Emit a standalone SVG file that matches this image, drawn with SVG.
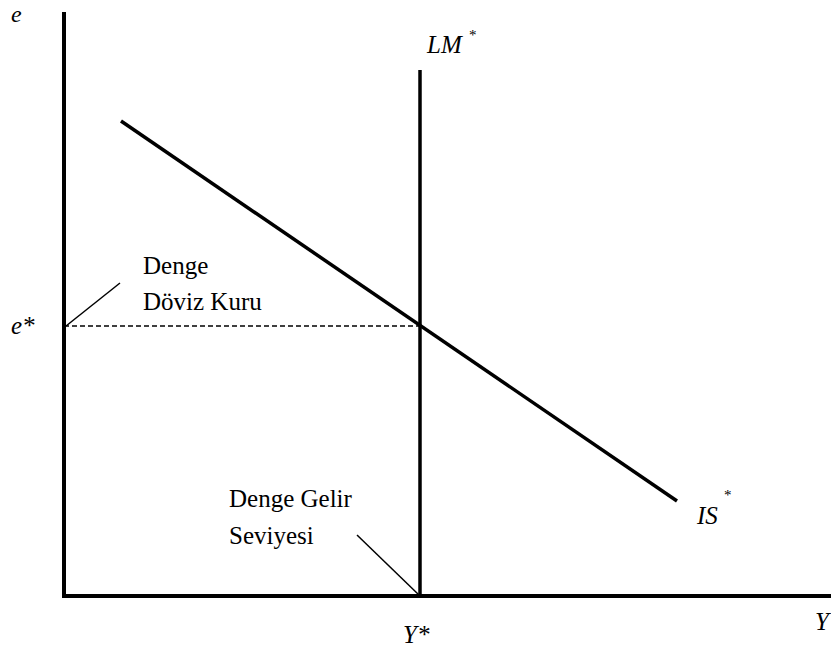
<svg xmlns="http://www.w3.org/2000/svg" width="831" height="652" viewBox="0 0 831 652">
<style>
.ax{stroke:#000;stroke-width:4;fill:none}
.cv{stroke:#000;stroke-width:3.5;fill:none}
.ld{stroke:#000;stroke-width:1.5;fill:none}
.ds{stroke:#000;stroke-width:1.5;stroke-dasharray:5,3;fill:none}
text{font-family:"Liberation Serif","Times New Roman",serif;fill:#000}
.it{font-style:italic;font-size:25px}
.n{font-size:25px}
.st{font-size:15px}
</style>
<rect width="831" height="652" fill="#fff"/>
<g id="connectors">
<line class="ds" x1="64" y1="326" x2="420" y2="326"/>
<line class="ld" x1="66" y1="326" x2="120" y2="283"/>
<line class="ld" x1="357" y1="535" x2="419" y2="595"/>
</g>
<g id="axes">
<line class="ax" x1="64" y1="12" x2="64" y2="598"/>
<line class="ax" x1="62" y1="596" x2="831" y2="596"/>
</g>
<g id="LM">
<line class="cv" x1="420" y1="70" x2="420" y2="596"/>
<text class="it" x="427" y="53">LM</text><text class="st" x="469" y="40">*</text>
</g>
<g id="IS">
<line class="cv" x1="121" y1="121" x2="677" y2="501"/>
<text class="it" x="697" y="524">IS</text><text class="st" x="724" y="500">*</text>
</g>
<g id="labels">
<text class="it" x="11" y="22" style="font-size:24px">e</text>
<text class="it" x="11" y="334">e*</text>
<text class="n" x="143" y="274">Denge</text>
<text class="n" x="143" y="310">Döviz Kuru</text>
<text class="n" x="229" y="507">Denge Gelir</text>
<text class="n" x="229" y="544">Seviyesi</text>
<text class="it" x="403" y="643">Y*</text>
<text class="it" x="815" y="630">Y</text>
</g>
</svg>
